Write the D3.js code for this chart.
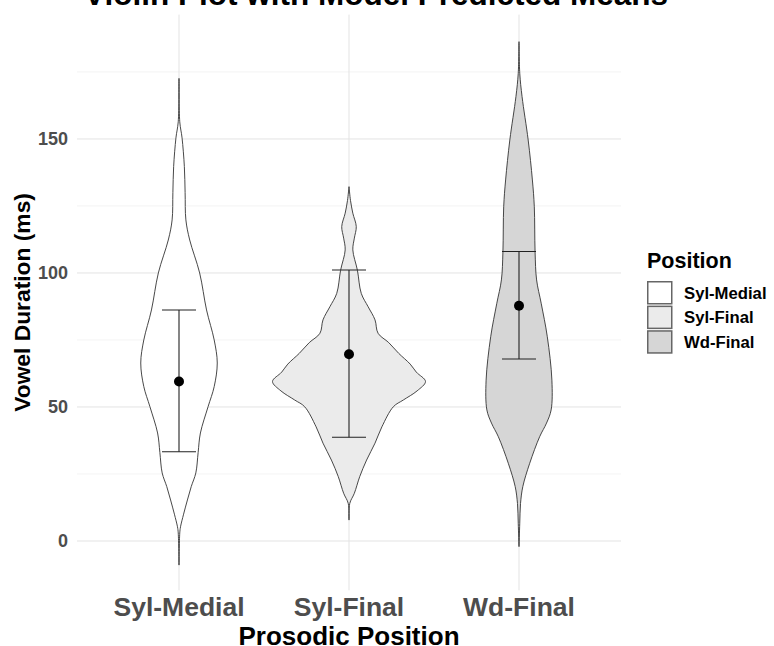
<!DOCTYPE html>
<html>
<head>
<meta charset="utf-8">
<script src="https://cdn.jsdelivr.net/npm/d3@7"></script>
<style>
  body { margin: 0; background: #fff; }
  svg text { font-family: "Liberation Sans", Arial, sans-serif; font-weight: bold; }
</style>
</head>
<body>
<div id="chart"></div>
<script>
// data
var categories = ["Syl-Medial", "Syl-Final", "Wd-Final"];
var meanValues = [59.5, 69.7, 87.8];
var lowerCI = [33.3, 38.7, 67.9];
var upperCI = [86.2, 101.1, 108.0];

// violin outlines: [vowel duration, relative density]
var sylMedialDensity = [
  [-9, 0], [3, 0.01], [5.3, 0.02], [10, 0.06], [15.3, 0.11], [20.3, 0.16], [25.4, 0.22],
  [33, 0.25], [40.3, 0.28], [50.1, 0.38], [57.6, 0.46], [66.4, 0.50], [75, 0.46],
  [86.2, 0.36], [100, 0.27], [112.3, 0.14], [119.8, 0.09], [130, 0.08], [139.7, 0.07],
  [150.4, 0.04], [156.4, 0.01], [172.6, 0]
];
var sylFinalDensity = [
  [7.8, 0], [14, 0.01], [17.8, 0.07], [24, 0.14], [30.2, 0.23], [36.5, 0.34], [42.6, 0.43],
  [50.1, 0.58], [52.6, 0.71], [56, 0.89], [59.5, 1.0], [63, 0.88], [66, 0.8], [70, 0.65],
  [74, 0.52], [77.5, 0.38], [82.5, 0.34], [87.4, 0.25], [92.4, 0.16], [101, 0.11],
  [108.6, 0.05], [113, 0.07], [117.3, 0.095], [122.3, 0.05], [127, 0.02], [132.2, 0]
];
var wdFinalDensity = [
  [-2.1, 0], [6.6, 0.01], [14, 0.02], [20.3, 0.05], [29, 0.14], [38.9, 0.27], [44, 0.36],
  [48.9, 0.42], [60, 0.43], [76.2, 0.37], [88.7, 0.29], [97.4, 0.23], [108, 0.21],
  [124.7, 0.20], [134.7, 0.175], [149.6, 0.12], [165.8, 0.04], [174.5, 0.01], [186.3, 0]
];
var densities = [sylMedialDensity, sylFinalDensity, wdFinalDensity];

var yTicks = [0, 50, 100, 150];
var yMinorTicks = [25, 75, 125, 175];
var fillColors = ["#ffffff", "#ebebeb", "#d6d6d6"];

// set up chart
var svgWidth = 774;
var svgHeight = 646;
var panel = { left: 77, right: 621, top: 14.6, bottom: 590.3 };

var svg = d3.select("#chart")
    .append("svg")
    .attr("width", svgWidth)
    .attr("height", svgHeight);

var xScale = d3.scaleBand()
    .domain(categories)
    .range([panel.left, panel.right])
    .paddingInner(0)
    .paddingOuter(0.1);

var yScale = d3.scaleLinear()
    .domain([-18.4, 196.4])
    .range([panel.bottom, panel.top]);

var maxDensity = d3.max(densities, d => d3.max(d, p => p[1]));
var wScale = d3.scaleLinear()
    .domain([0, maxDensity])
    .range([0, xScale.bandwidth() * 0.45]);

// grid
var grid = svg.append("g");
grid.selectAll(".minor")
    .data(yMinorTicks)
    .enter()
    .append("line")
    .attr("x1", panel.left).attr("x2", panel.right)
    .attr("y1", d => yScale(d)).attr("y2", d => yScale(d))
    .attr("stroke", "#f0f0f0")
    .attr("stroke-width", 0.8);
grid.selectAll(".major")
    .data(yTicks)
    .enter()
    .append("line")
    .attr("x1", panel.left).attr("x2", panel.right)
    .attr("y1", d => yScale(d)).attr("y2", d => yScale(d))
    .attr("stroke", "#e3e3e3")
    .attr("stroke-width", 1);
grid.selectAll(".vmajor")
    .data(categories)
    .enter()
    .append("line")
    .attr("x1", d => xScale(d) + xScale.bandwidth() / 2)
    .attr("x2", d => xScale(d) + xScale.bandwidth() / 2)
    .attr("y1", panel.top).attr("y2", panel.bottom)
    .attr("stroke", "#e3e3e3")
    .attr("stroke-width", 1);

// violins
categories.forEach(function(cat, i) {
    var cx = xScale(cat) + xScale.bandwidth() / 2;
    var area = d3.area()
        .y(d => yScale(d[0]))
        .x0(d => cx - wScale(d[1]))
        .x1(d => cx + wScale(d[1]))
        .curve(d3.curveCatmullRom);
    svg.append("path")
        .datum(densities[i])
        .attr("d", area)
        .attr("fill", fillColors[i])
        .attr("stroke", "#333")
        .attr("stroke-width", 0.9);
});

// error bars and means
var capHalf = xScale.bandwidth() * 0.1;
var bars = svg.append("g");
categories.forEach(function(cat, i) {
    var cx = xScale(cat) + xScale.bandwidth() / 2;
    bars.append("line")
        .attr("x1", cx).attr("x2", cx)
        .attr("y1", yScale(lowerCI[i])).attr("y2", yScale(upperCI[i]))
        .attr("stroke", "#222").attr("stroke-width", 1.1);
    [lowerCI[i], upperCI[i]].forEach(function(v) {
        bars.append("line")
            .attr("x1", cx - capHalf).attr("x2", cx + capHalf)
            .attr("y1", yScale(v)).attr("y2", yScale(v))
            .attr("stroke", "#222").attr("stroke-width", 1.1);
    });
    bars.append("circle")
        .attr("cx", cx)
        .attr("cy", yScale(meanValues[i]))
        .attr("r", 5)
        .attr("fill", "#000");
});

// axes
var yAxis = d3.axisLeft(yScale).tickValues(yTicks).tickSize(0).tickPadding(9);
var yAxisG = svg.append("g")
    .attr("transform", `translate(${panel.left}, 0)`)
    .call(yAxis);
yAxisG.select(".domain").remove();
yAxisG.selectAll("text")
    .attr("font-size", 18)
    .attr("fill", "#4d4d4d")
    .style("font-family", "Liberation Sans, Arial, sans-serif")
    .style("font-weight", "bold");

var xAxis = d3.axisBottom(xScale).tickSize(0).tickPadding(0);
var xAxisG = svg.append("g")
    .attr("transform", `translate(0, ${panel.bottom})`)
    .call(xAxis);
xAxisG.select(".domain").remove();
xAxisG.selectAll("text")
    .attr("dy", null)
    .attr("y", 26.2)
    .attr("font-size", 26.5)
    .attr("fill", "#4d4d4d")
    .style("font-family", "Liberation Sans, Arial, sans-serif")
    .style("font-weight", "bold");

// titles
svg.append("text")
    .attr("x", 376)
    .attr("y", 5)
    .attr("text-anchor", "middle")
    .attr("font-size", 31.5)
    .attr("fill", "#000")
    .text("Violin Plot with Model Predicted Means");

svg.append("text")
    .attr("x", (panel.left + panel.right) / 2)
    .attr("y", 645)
    .attr("text-anchor", "middle")
    .attr("font-size", 26)
    .attr("fill", "#000")
    .text("Prosodic Position");

svg.append("text")
    .attr("transform", "rotate(-90)")
    .attr("x", -(panel.top + panel.bottom) / 2)
    .attr("y", 30)
    .attr("text-anchor", "middle")
    .attr("font-size", 22.8)
    .attr("fill", "#000")
    .text("Vowel Duration (ms)");

// legend
var legend = svg.append("g").attr("transform", "translate(647, 0)");
legend.append("text")
    .attr("x", 0)
    .attr("y", 268)
    .attr("font-size", 21.5)
    .attr("fill", "#000")
    .text("Position");

var keys = legend.selectAll(".key")
    .data(categories)
    .enter()
    .append("g")
    .attr("transform", (d, i) => `translate(0, ${281 + i * 24.6})`);
keys.append("rect")
    .attr("x", 0.75).attr("y", 0.75)
    .attr("width", 24).attr("height", 22)
    .attr("fill", (d, i) => fillColors[i])
    .attr("stroke", "#666")
    .attr("stroke-width", 1.5);
keys.append("text")
    .attr("x", 37)
    .attr("y", 17.5)
    .attr("font-size", 16.7)
    .attr("fill", "#000")
    .text(d => d);
</script>
</body>
</html>
